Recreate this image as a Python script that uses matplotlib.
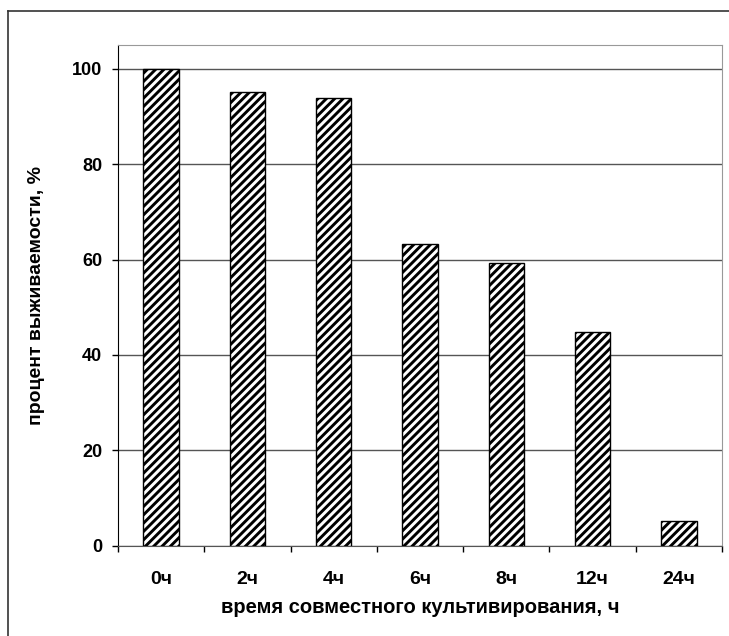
import matplotlib
matplotlib.use('Agg')
import matplotlib.pyplot as plt
from matplotlib.lines import Line2D

# survival percent by co-cultivation time
categories = ['0ч', '2ч', '4ч', '6ч', '8ч', '12ч', '24ч']
survival = [100, 95.1, 93.8, 63.2, 59.2, 44.9, 5.2]
y_ticks = [0, 20, 40, 60, 80, 100]

plt.rcParams['font.family'] = ['Liberation Sans', 'DejaVu Sans']
plt.rcParams['font.weight'] = 'bold'
plt.rcParams['hatch.linewidth'] = 2.1

fig = plt.figure(figsize=(7.29, 6.36), dpi=100)
ax = fig.add_axes([118 / 729, (636 - 545.7) / 636, (722 - 118) / 729, (545.7 - 45) / 636])

x = list(range(len(categories)))
ax.bar(x, survival, width=0.41, color='white', edgecolor='black',
       linewidth=1.0, hatch='////', zorder=3)

ax.set_xlim(-0.5, len(categories) - 0.5)
ax.set_ylim(0, 105)
ax.set_yticks(y_ticks)
ax.set_yticklabels([str(v) for v in y_ticks], fontsize=13, fontweight='bold')
ax.yaxis.grid(True, color='#555555', linewidth=1.0, zorder=0)
ax.set_axisbelow(True)

# category labels centred, ticks on category boundaries
ax.set_xticks(x)
ax.set_xticklabels(categories, fontsize=14, fontweight='bold')
ax.tick_params(axis='x', which='major', length=0, pad=18)
ax.set_xticks([i - 0.5 for i in range(len(categories) + 1)], minor=True)
ax.tick_params(axis='x', which='minor', length=4.5, width=1, color='black', direction='out')
ax.tick_params(axis='y', length=4.5, width=1, direction='out', pad=7)

ax.spines['left'].set_color('black')
ax.spines['bottom'].set_color('#555555')
ax.spines['top'].set_color('#999999')
ax.spines['right'].set_color('#999999')

ax.set_ylabel('процент выживаемости, %', fontsize=14, fontweight='bold')
ax.yaxis.set_label_coords((45 - 118) / 604, 0.5)
ax.set_xlabel('время совместного культивирования, ч', fontsize=14.5, fontweight='bold')
ax.xaxis.set_label_coords(0.5, (545.7 - 598) / 500.7)

# outer chart border (left and top visible)
fig.add_artist(Line2D([8 / 729, 8 / 729], [0, 1 - 11 / 636], color='#333333', linewidth=1.2))
fig.add_artist(Line2D([8 / 729, 1], [1 - 11 / 636, 1 - 11 / 636], color='#333333', linewidth=1.2))

fig.savefig('out.png', dpi=100)
